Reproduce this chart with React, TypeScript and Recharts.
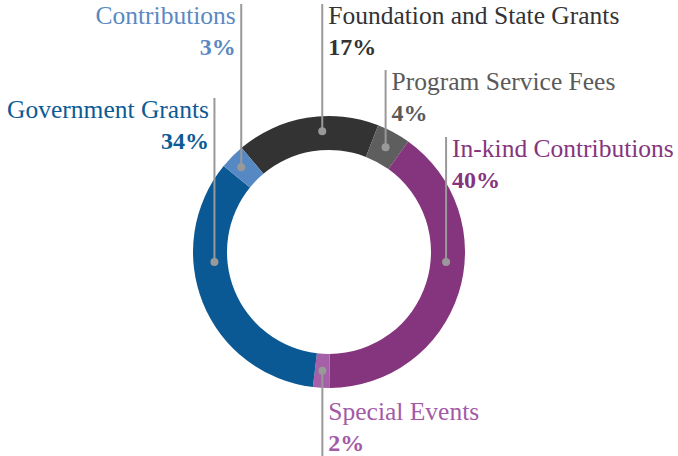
import React from "react";
import { PieChart, Pie, Cell } from "recharts";

const categories = [
  "Foundation and State Grants",
  "Program Service Fees",
  "In-kind Contributions",
  "Special Events",
  "Government Grants",
  "Contributions",
];
const shares = [17, 4, 40, 2, 34, 3];
const sliceColors = ["#333333", "#5e5e5e", "#85357e", "#a560a8", "#0b5994", "#5689c3"];
const labelColors = ["#333333", "#5a5a5a", "#85357e", "#a35aa6", "#0c5a94", "#5a89c2"];

// label layout: text side, leader-line end, and for wide slices the dot's
// angle (clockwise from top) and radius on the ring
const labelLayout = [
  { side: "right", dir: "up", lineEnd: 4, anchorAngle: -3.2, anchorR: 121 },
  { side: "right", dir: "up", lineEnd: 70 },
  { side: "right", dir: "up", lineEnd: 137, anchorAngle: 94.9, anchorR: 117.5 },
  { side: "right", dir: "down", lineEnd: 456, textTop: 400 },
  { side: "left", dir: "up", lineEnd: 98, anchorAngle: 265, anchorR: 115 },
  { side: "left", dir: "up", lineEnd: 4, anchorAngle: -46, anchorR: 122 },
];

const data = categories.map((name, i) => ({ name, value: shares[i] }));

const FONT = "'Liberation Serif', 'Times New Roman', serif";

const renderLabel = (props: any) => {
  const { cx, cy, midAngle, innerRadius, outerRadius, index } = props;
  const lay: any = labelLayout[index];
  const theta = lay.anchorAngle !== undefined ? lay.anchorAngle : 90 - midAngle;
  const r = lay.anchorR !== undefined ? lay.anchorR : (innerRadius + outerRadius) / 2;
  const rad = (theta * Math.PI) / 180;
  const x = cx + r * Math.sin(rad);
  const y = cy - r * Math.cos(rad);
  const textTop = lay.dir === "up" ? lay.lineEnd : lay.textTop;
  const nameY = textTop + 19.5;
  const pctY = nameY + 31.5;
  const left = lay.side === "left";
  const tx = left ? x - 5.5 : x + 6;
  const anchor = left ? "end" : "start";
  return (
    <g key={`lbl-${index}`}>
      <line x1={x} y1={y} x2={x} y2={lay.lineEnd} stroke="#999999" strokeWidth={2} />
      <circle cx={x} cy={y} r={4} fill="#999999" />
      <text x={tx} y={nameY} textAnchor={anchor} fill={labelColors[index]} fontFamily={FONT} fontSize={25.5}>
        {categories[index]}
      </text>
      <text x={tx} y={pctY} textAnchor={anchor} fill={labelColors[index]} fontFamily={FONT} fontSize={24} fontWeight="bold">
        {`${shares[index]}%`}
      </text>
    </g>
  );
};

export default function App() {
  return (
    <div style={{ position: "absolute", left: 0, top: 0, width: 678, height: 456, background: "#ffffff" }}>
      <PieChart width={678} height={456} margin={{ top: 0, right: 0, bottom: 0, left: 0 }}>
        <Pie
          data={data}
          dataKey="value"
          nameKey="name"
          cx={329}
          cy={252}
          innerRadius={102}
          outerRadius={136}
          startAngle={130}
          endAngle={-230}
          stroke="none"
          isAnimationActive={false}
          label={renderLabel}
          labelLine={false}
        >
          {data.map((d, i) => (
            <Cell key={d.name} fill={sliceColors[i]} />
          ))}
        </Pie>
      </PieChart>
    </div>
  );
}
